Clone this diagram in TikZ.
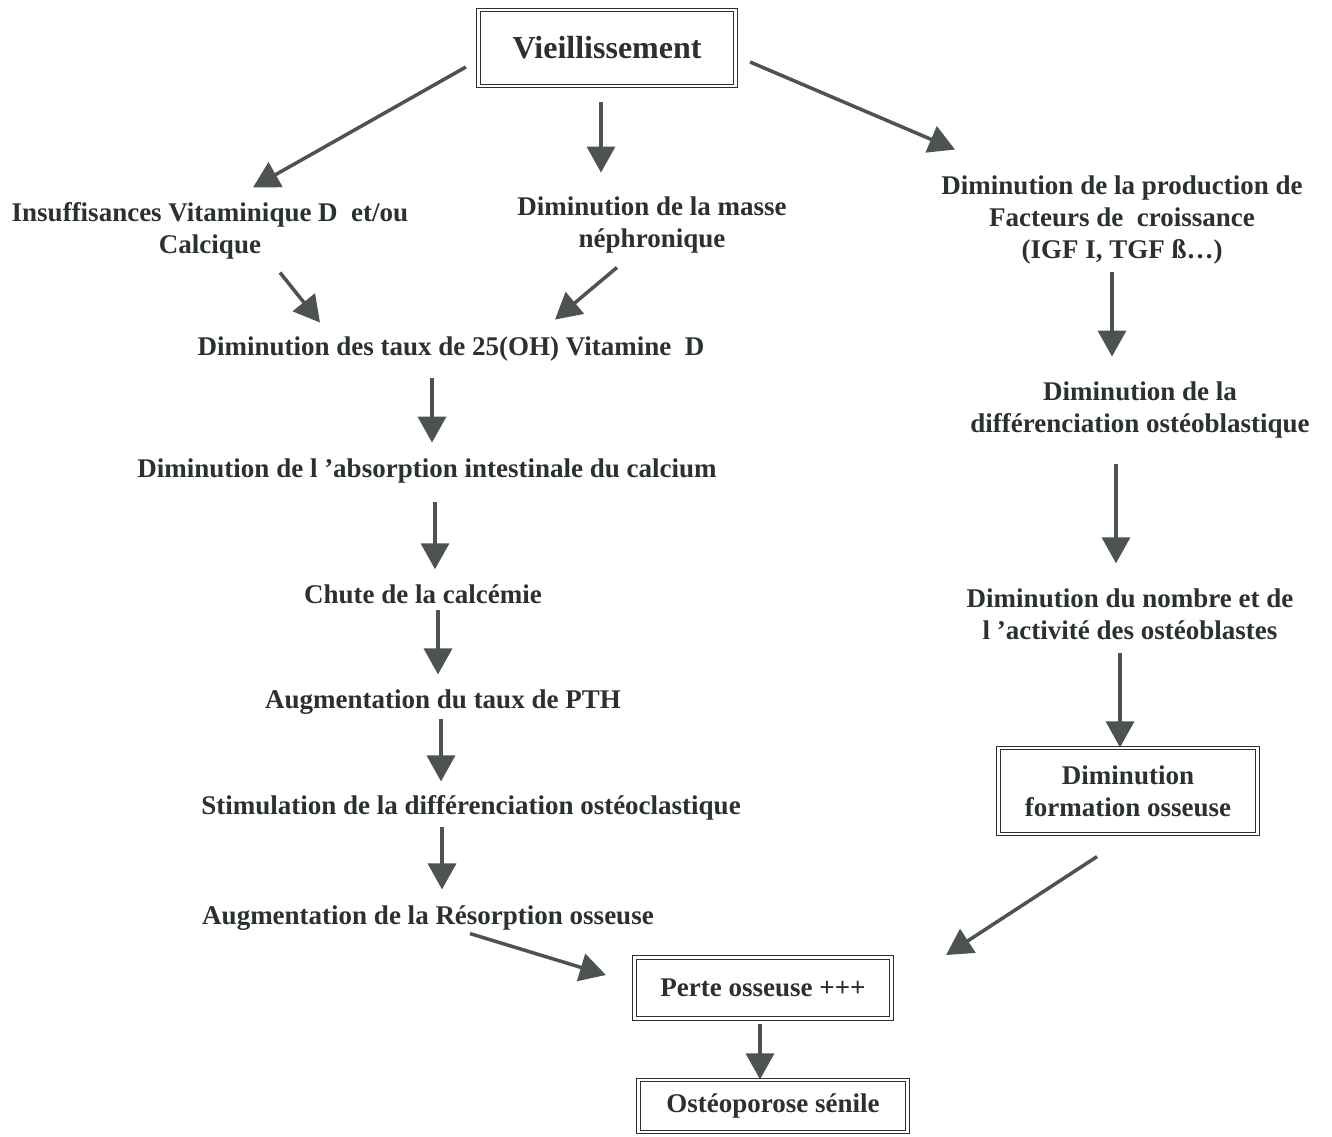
\documentclass[tikz,border=0pt]{standalone}
\usepackage{fontspec}
\setmainfont{Liberation Serif}
\usetikzlibrary{arrows.meta}
\definecolor{ink}{HTML}{2B3030}
\definecolor{arrc}{HTML}{4D5252}
\tikzset{
  txt/.style={font=\fontsize{27}{32}\selectfont\bfseries, text=ink, align=center, inner sep=0pt},
  arr/.style={draw=arrc, line width=3.5pt, -{Triangle[length=26pt,width=28pt]}},
  dbox/.style={draw=ink, double, double distance=2.5pt, line width=1.2pt, inner sep=0pt,
    font=\fontsize{27}{32}\selectfont\bfseries, text=ink, align=center}
}
\begin{document}
\begin{tikzpicture}[x=1pt,y=-1pt]
\useasboundingbox[fill=white] (0,0) rectangle (1332,1136);
% boxes
\node[dbox, minimum width=257pt, minimum height=76pt, font=\fontsize{32}{32}\selectfont\bfseries] (vie) at (607,48) {Vieillissement};
\node[dbox, minimum width=257pt, minimum height=61pt] (per) at (763,988) {Perte osseuse +++};
\node[dbox, minimum width=269pt, minimum height=52pt] (ost) at (773,1106) {Ostéoporose sénile};
\node[dbox, minimum width=259pt, minimum height=86pt] (form) at (1128,791) {Diminution\\formation osseuse};
% texts
\node[txt] (ins) at (210,231) {Insuffisances Vitaminique D\ \ et/ou\\Calcique};
\node[txt] (nep) at (652,225) {Diminution de la masse\\néphronique};
\node[txt] (fac) at (1122,220) {Diminution de la production de\\Facteurs de\ \ croissance\\(IGF I, TGF ß…)};
\node[txt] (vit) at (451,349) {Diminution des taux de 25(OH) Vitamine\ \ D};
\node[txt] (abs) at (427,471) {Diminution de l ’absorption intestinale du calcium};
\node[txt] (chu) at (423,594) {Chute de la calcémie};
\node[txt] (pth) at (443,702) {Augmentation du taux de PTH};
\node[txt] (sti) at (471,808) {Stimulation de la différenciation ostéoclastique};
\node[txt] (res) at (428,918) {Augmentation de la Résorption osseuse};
\node[txt] (dif) at (1140,410) {Diminution de la\\différenciation ostéoblastique};
\node[txt] (nom) at (1130,614) {Diminution du nombre et de\\l ’activité des ostéoblastes};
% diagonal arrows
\draw[arr] ([shift={(-12pt,-19pt)}]vie.west) -- ([shift={(43pt,15pt)}]ins.north);
\draw[arr] ([shift={(14pt,-14pt)}]vie.east) -- ([shift={(-167pt,26pt)}]fac.north);
\draw[arr] ([shift={(70pt,-13pt)}]ins.south) -- ([shift={(-131pt,14pt)}]vit.north);
\draw[arr] ([shift={(-35pt,-14pt)}]nep.south) -- ([shift={(104pt,17pt)}]vit.north);
\draw[arr] ([shift={(42pt,-3pt)}]res.south) -- ([shift={(-28pt,13pt)}]per.west);
\draw[arr] ([shift={(-31pt,-22pt)}]form.south) -- ([shift={(54pt,33pt)}]per.east);
% vertical arrows
\draw[arr] ([yshift=-15pt]vie.south -| 601,0) -- ([yshift=24pt]nep.north -| 601,0);
\draw[arr] ([yshift=-17pt]vit.south -| 432,0) -- ([yshift=16pt]abs.north -| 432,0);
\draw[arr] ([yshift=-19pt]abs.south -| 435,0) -- ([yshift=15pt]chu.north -| 435,0);
\draw[arr] ([yshift=-6pt]chu.south -| 438,0) -- ([yshift=15pt]pth.north -| 438,0);
\draw[arr] ([yshift=-4pt]pth.south -| 441,0) -- ([yshift=14pt]sti.north -| 441,0);
\draw[arr] ([yshift=-6pt]sti.south -| 442,0) -- ([yshift=16pt]res.north -| 442,0);
\draw[arr] ([yshift=-5pt]per.south -| 760,0) -- (ost.north -| 760,0);
\draw[arr] ([yshift=-8pt]fac.south -| 1112,0) -- ([yshift=25pt]dif.north -| 1112,0);
\draw[arr] ([yshift=-26pt]dif.south -| 1116,0) -- ([yshift=25pt]nom.north -| 1116,0);
\draw[arr] ([yshift=-13pt]nom.south -| 1120,0) -- (form.north -| 1120,0);
\end{tikzpicture}
\end{document}
